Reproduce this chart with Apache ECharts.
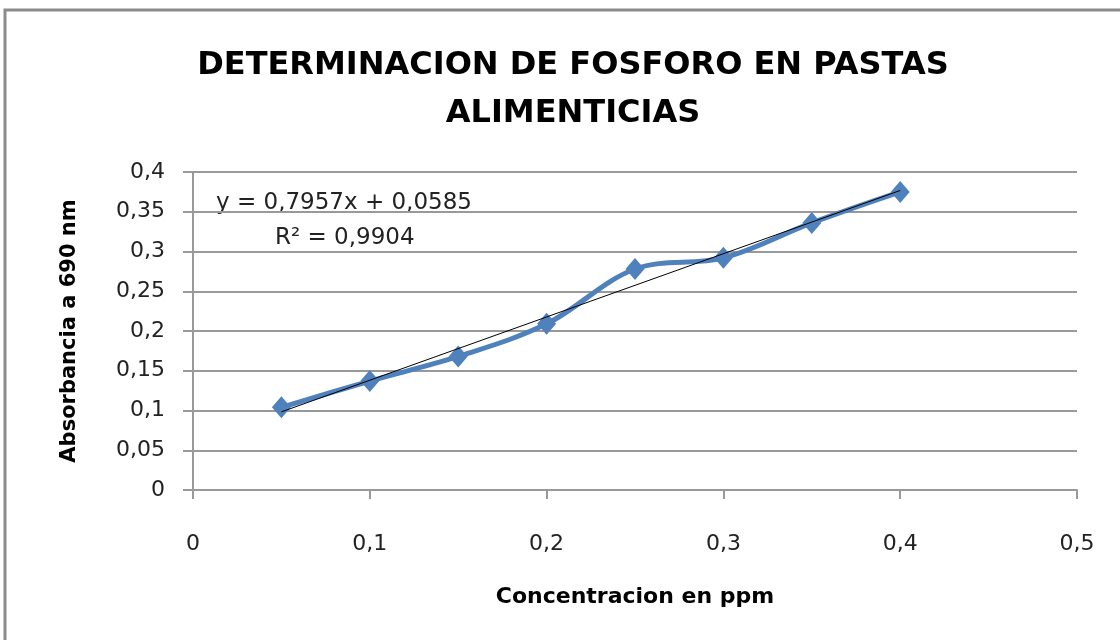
<!DOCTYPE html>
<html>
<head>
<meta charset="utf-8">
<script src="https://cdn.jsdelivr.net/npm/echarts@6/dist/echarts.min.js"></script>
<style>
  html, body { margin: 0; padding: 0; background: #fff; }
  #main { width: 1120px; height: 640px; }
</style>
</head>
<body>
<div id="main"></div>
<script>
// datos de la curva de calibracion
var concentracion = [0.05, 0.1, 0.15, 0.2, 0.25, 0.3, 0.35, 0.4];
var absorbancia = [0.104, 0.137, 0.168, 0.209, 0.278, 0.292, 0.336, 0.375];
// linea de tendencia (ajuste lineal)
var pendiente = 0.7957;
var intercepto = 0.0585;
var r2 = 0.9904;

var fuente = 'DejaVu Sans';

function coma(v) {
    return String(v).replace('.', ',');
}

var puntos = concentracion.map(function(x, i) { return [x, absorbancia[i]]; });
var xIni = concentracion[0];
var xFin = concentracion[concentracion.length - 1];
var tendencia = [
    [xIni, pendiente * xIni + intercepto],
    [xFin, pendiente * xFin + intercepto]
];

var myChart = echarts.init(document.getElementById('main'));
var option = {
    backgroundColor: '#fff',
    animation: false,
    title: {
        text: 'DETERMINACION DE FOSFORO EN PASTAS\nALIMENTICIAS',
        left: 568,
        textAlign: 'center',
        top: 37,
        textStyle: {
            fontFamily: fuente,
            fontSize: 32,
            fontWeight: 'bold',
            color: '#000',
            lineHeight: 48
        }
    },
    grid: {
        left: 193,
        right: 43,
        top: 172,
        bottom: 150
    },
    graphic: [
        {
            type: 'polyline',
            shape: { points: [[5, 640], [5, 10], [1120, 10]] },
            style: { stroke: '#8c8c8c', lineWidth: 3, fill: null }
        },
        {
            type: 'text',
            left: 216,
            top: 192,
            style: {
                text: 'y = ' + coma(pendiente) + 'x + ' + coma(intercepto),
                fontFamily: fuente,
                fontSize: 23,
                fill: '#222'
            }
        },
        {
            type: 'text',
            left: 275,
            top: 227,
            style: {
                text: 'R² = ' + coma(r2),
                fontFamily: fuente,
                fontSize: 23,
                fill: '#222'
            }
        }
    ],
    xAxis: {
        type: 'value',
        min: 0,
        max: 0.5,
        interval: 0.1,
        name: 'Concentracion en ppm',
        nameLocation: 'middle',
        nameGap: 96,
        nameTextStyle: {
            fontFamily: fuente,
            fontSize: 22,
            fontWeight: 'bold',
            color: '#000'
        },
        axisLine: { lineStyle: { color: '#999', width: 2 } },
        axisTick: { show: true, length: 9, lineStyle: { color: '#999', width: 2 } },
        splitLine: { show: false },
        axisLabel: {
            margin: 43,
            fontFamily: fuente,
            fontSize: 22,
            color: '#222',
            formatter: coma
        }
    },
    yAxis: {
        type: 'value',
        min: 0,
        max: 0.4,
        interval: 0.05,
        name: 'Absorbancia a 690 nm',
        nameLocation: 'middle',
        nameGap: 113,
        nameTextStyle: {
            fontFamily: fuente,
            fontSize: 21,
            fontWeight: 'bold',
            color: '#000'
        },
        axisLine: { show: true, lineStyle: { color: '#999', width: 2 } },
        axisTick: { show: true, length: 10, lineStyle: { color: '#999', width: 2 } },
        splitLine: { show: true, lineStyle: { color: '#999', width: 2 } },
        axisLabel: {
            margin: 28,
            fontFamily: fuente,
            fontSize: 22,
            color: '#222',
            formatter: coma
        }
    },
    series: [
        {
            type: 'line',
            data: puntos,
            smooth: 0.35,
            symbol: 'diamond',
            symbolSize: [19, 22],
            lineStyle: { color: '#4f81bd', width: 5 },
            itemStyle: { color: '#4f81bd' },
            z: 2
        },
        {
            type: 'line',
            data: tendencia,
            symbol: 'none',
            lineStyle: { color: '#000', width: 1 },
            z: 3
        }
    ]
};
myChart.setOption(option);
</script>
</body>
</html>
